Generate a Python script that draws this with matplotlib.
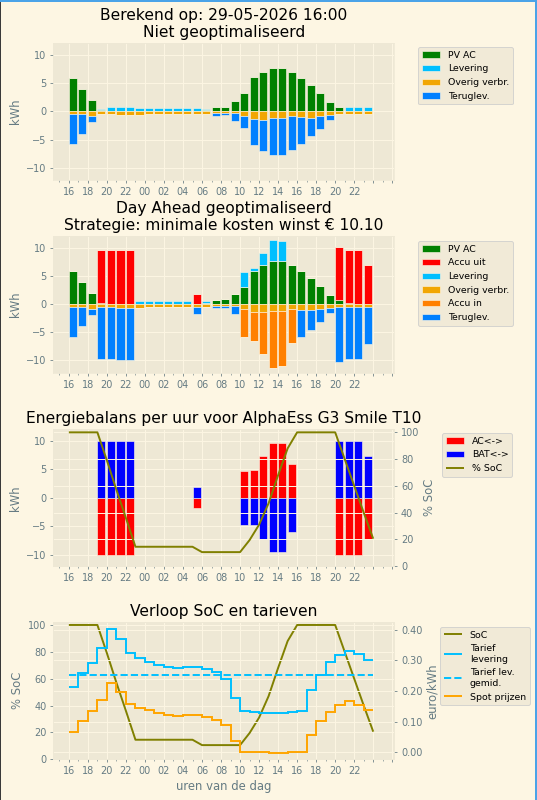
import matplotlib
matplotlib.use("Agg")
import matplotlib.pyplot as plt
import numpy as np
from matplotlib.ticker import MultipleLocator, FuncFormatter, FormatStrFormatter
from matplotlib.patches import Rectangle

plt.style.use('Solarize_Light2')

# uur-labels (16:00 vandaag t/m 23:00 morgen)
uren = ['16', '17', '18', '19', '20', '21', '22', '23',
        '00', '01', '02', '03', '04', '05', '06', '07', '08', '09', '10', '11',
        '12', '13', '14', '15', '16', '17', '18', '19', '20', '21', '22', '23']

# niet geoptimaliseerd (kWh)
pv_ac = [5.9, 4.0, 2.0, 0.2, 0.05, 0.0, 0.0, 0.0, 0.0, 0.0, 0.1, 0.1, 0.1, 0.1, 0.2, 0.8,
         0.85, 1.8, 3.15, 6.0, 7.0, 7.7, 7.65, 6.9, 5.9, 4.6, 3.3, 1.6, 0.7, 0.15, 0.0, 0.0]
lev_org = [0.0, 0.0, 0.0, 0.3, 0.7, 0.75, 0.75, 0.65, 0.6, 0.6, 0.5, 0.5, 0.5, 0.5, 0.2, 0.0,
           0.0, 0.0, 0.0, 0.0, 0.0, 0.0, 0.0, 0.0, 0.0, 0.0, 0.0, 0.0, 0.0, 0.55, 0.7, 0.7]
overig = [0.45, 0.55, 0.9, 0.5, 0.55, 0.7, 0.7, 0.6, 0.5, 0.5, 0.5, 0.5, 0.5, 0.5, 0.5, 0.3,
          0.3, 0.35, 0.9, 1.4, 1.45, 1.25, 1.15, 0.8, 1.05, 1.1, 0.9, 0.6, 0.55, 0.55, 0.55, 0.55]
terug_org = [5.3, 3.35, 1.0, 0.0, 0.0, 0.0, 0.0, 0.0, 0.0, 0.0, 0.0, 0.0, 0.0, 0.0, 0.0, 0.45,
             0.4, 1.35, 2.1, 4.5, 5.5, 6.4, 6.5, 6.0, 4.7, 3.25, 2.2, 0.9, 0.0, 0.0, 0.0, 0.0]

# day ahead geoptimaliseerd (kWh)
accu_uit = [0.0, 0.0, 0.0, 9.5, 9.65, 9.7, 9.7, 0.0, 0.0, 0.0, 0.0, 0.0, 0.0, 1.8, 0.0, 0.0,
            0.0, 0.0, 0.0, 0.0, 0.0, 0.0, 0.0, 0.0, 0.0, 0.0, 0.0, 0.0, 9.5, 9.55, 9.7, 7.0]
lev_opt = [0.0, 0.0, 0.0, 0.0, 0.0, 0.0, 0.0, 0.65, 0.55, 0.55, 0.45, 0.45, 0.45, 0.0, 0.3, 0.0,
           0.0, 0.0, 2.6, 0.45, 2.1, 3.75, 3.55, 0.0, 0.0, 0.0, 0.0, 0.0, 0.0, 0.0, 0.0, 0.0]
accu_in = [0.0, 0.0, 0.0, 0.0, 0.0, 0.0, 0.0, 0.0, 0.0, 0.0, 0.0, 0.0, 0.0, 0.0, 0.0, 0.0,
           0.0, 0.0, 4.9, 5.1, 7.4, 10.0, 9.9, 6.1, 0.0, 0.0, 0.0, 0.0, 0.0, 0.0, 0.0, 0.0]
terug_opt = [5.3, 3.4, 1.0, 9.15, 9.15, 9.15, 9.15, 0.0, 0.0, 0.0, 0.0, 0.0, 0.0, 1.3, 0.0, 0.3,
             0.35, 1.45, 0.0, 0.0, 0.0, 0.0, 0.0, 0.0, 4.8, 3.4, 2.3, 0.9, 9.75, 9.1, 9.1, 6.45]

# energiebalans batterij (kWh)
ac_bal = [0, 0, 0, -10, -10, -10, -10, 0, 0, 0, 0, 0, 0, -1.85, 0, 0,
          0, 0, 4.65, 4.85, 7.3, 9.6, 9.6, 5.9, 0, 0, 0, 0, -10, -10, -10, -7.3]
bat_bal = [0, 0, 0, 10, 10, 10, 10, 0, 0, 0, 0, 0, 0, 1.8, 0, 0,
           0, 0, -4.7, -4.85, -7.3, -9.6, -9.6, -6.0, 0, 0, 0, 0, 10, 10, 10, 7.3]

# state of charge (%) aan begin van elk uur, laatste = einde
soc = [100, 100, 100, 100, 79, 57, 36, 14.5, 14.5, 14.5, 14.5, 14.5, 14.5, 14.5, 10.5, 10.5, 10.5,
       10.5, 10.5, 19.5, 31, 47, 68, 88, 100, 100, 100, 100, 100, 80, 60, 40, 20.5]

# tarieven (euro/kWh)
tarief_lev = [0.213, 0.258, 0.293, 0.339, 0.404, 0.369, 0.325, 0.307, 0.295, 0.286, 0.279,
              0.276, 0.279, 0.279, 0.273, 0.263, 0.240, 0.178, 0.134, 0.131, 0.130, 0.128,
              0.129, 0.131, 0.134, 0.203, 0.253, 0.295, 0.319, 0.331, 0.320, 0.300]
spot = [0.066, 0.103, 0.135, 0.172, 0.225, 0.198, 0.158, 0.146, 0.137, 0.127, 0.123, 0.118,
        0.123, 0.123, 0.116, 0.107, 0.088, 0.037, 0.002, 0.0, 0.0, -0.002, -0.002, 0.0, 0.002,
        0.056, 0.103, 0.133, 0.153, 0.166, 0.155, 0.138]
tarief_gem = 0.253

c_pv = 'green'
c_lev = '#00bfff'
c_overig = '#f1a603'
c_terug = '#0080ff'
c_uit = 'red'
c_in = '#ff8000'

ind = np.arange(len(uren))
ind_soc = np.arange(len(soc))
bar_kw = dict(width=0.85, align='edge', edgecolor='#fdf6e3', linewidth=0.6)

fig, axs = plt.subplots(4, 1, figsize=(537 / 70, 800 / 70), dpi=70)
fig.subplots_adjust(left=0.099, right=0.734, top=0.946, bottom=0.051, hspace=0.41)


def fmt_uur(v, pos):
    i = int(round(v))
    if 0 <= i < len(uren):
        return uren[i]
    return ''


def opmaak_x(ax):
    ax.set_xlim(-1.65, 34.2)
    ax.xaxis.set_major_locator(MultipleLocator(2))
    ax.xaxis.set_minor_locator(MultipleLocator(1))
    ax.xaxis.set_major_formatter(FuncFormatter(fmt_uur))


leg_kw = dict(loc='upper left', bbox_transform=fig.transFigure, borderaxespad=0, fontsize=9.6)

# 1: niet geoptimaliseerd
ax = axs[0]
ax.bar(ind, pv_ac, color=c_pv, label='PV AC', **bar_kw)
ax.bar(ind, lev_org, bottom=pv_ac, color=c_lev, label='Levering', **bar_kw)
ax.bar(ind, -np.array(overig), color=c_overig, label='Overig verbr.', **bar_kw)
ax.bar(ind, -np.array(terug_org), bottom=-np.array(overig), color=c_terug, label='Teruglev.', **bar_kw)
ax.set_ylim(-12.1, 12)
ax.set_ylabel('kWh')
ax.set_title('Berekend op: 29-05-2026 16:00\nNiet geoptimaliseerd')
opmaak_x(ax)
ax.legend(bbox_to_anchor=(418 / 537, 1 - 47 / 800), **leg_kw)

# 2: geoptimaliseerd
ax = axs[1]
pv_arr = np.array(pv_ac)
ax.bar(ind, pv_ac, color=c_pv, label='PV AC', **bar_kw)
ax.bar(ind, accu_uit, bottom=pv_arr, color=c_uit, label='Accu uit', **bar_kw)
ax.bar(ind, lev_opt, bottom=pv_arr + np.array(accu_uit), color=c_lev, label='Levering', **bar_kw)
ax.bar(ind, -np.array(overig), color=c_overig, label='Overig verbr.', **bar_kw)
ax.bar(ind, -np.array(accu_in), bottom=-np.array(overig), color=c_in, label='Accu in', **bar_kw)
ax.bar(ind, -np.array(terug_opt), bottom=-np.array(overig) - np.array(accu_in), color=c_terug,
       label='Teruglev.', **bar_kw)
ax.set_ylim(-12.25, 12.1)
ax.set_ylabel('kWh')
ax.set_title('Day Ahead geoptimaliseerd\nStrategie: minimale kosten winst € 10.10')
opmaak_x(ax)
ax.legend(bbox_to_anchor=(418 / 537, 1 - 241 / 800), **leg_kw)

# 3: energiebalans
ax = axs[2]
ax.bar(ind, ac_bal, color='red', label='AC<->', **bar_kw)
ax.bar(ind, bat_bal, color='blue', label='BAT<->', **bar_kw)
ax.set_ylim(-12, 12)
ax.set_ylabel('kWh')
ax.set_title('Energiebalans per uur voor AlphaEss G3 Smile T10')
opmaak_x(ax)
ax3b = ax.twinx()
ax3b.plot(ind_soc, soc, color='olive', label='% SoC')
ax3b.set_ylim(0, 102.3)
ax3b.set_ylabel('% SoC')
h1, l1 = ax.get_legend_handles_labels()
h2, l2 = ax3b.get_legend_handles_labels()
ax3b.legend(h1 + h2, l1 + l2, bbox_to_anchor=(442 / 537, 1 - 433 / 800), **leg_kw)

# 4: SoC en tarieven
ax = axs[3]
ax.plot(ind_soc, soc, color='olive', label='SoC')
ax.set_ylim(0, 102)
ax.set_ylabel('% SoC')
ax.set_xlabel('uren van de dag')
ax.set_title('Verloop SoC en tarieven')
opmaak_x(ax)
ax4b = ax.twinx()
ax4b.stairs(tarief_lev, ind_soc, baseline=None, color=c_lev, linewidth=2, label='Tarief\nlevering')
ax4b.plot(ind_soc, np.full(len(ind_soc), tarief_gem), '--', color=c_lev, label='Tarief lev.\ngemid.')
ax4b.stairs(spot, ind_soc, baseline=None, color='orange', linewidth=2, label='Spot prijzen')
ax4b.yaxis.set_major_formatter(FormatStrFormatter('%.2f'))
ax4b.set_ylabel('euro/kWh')
h1, l1 = ax.get_legend_handles_labels()
h2, l2 = ax4b.get_legend_handles_labels()
ax4b.legend(h1 + h2, l1 + l2, bbox_to_anchor=(440 / 537, 1 - 627 / 800), **leg_kw)

# schermrand van de screenshot
fig.add_artist(Rectangle((0, 0), 1 / 537, 1, transform=fig.transFigure, color='#3a3a3a', lw=0))
fig.add_artist(Rectangle((0, 1 - 1.5 / 800), 1, 1.5 / 800, transform=fig.transFigure, color='#4aa3e8', lw=0))
fig.add_artist(Rectangle((1 - 2 / 537, 0), 2 / 537, 1, transform=fig.transFigure, color='#4aa3e8', lw=0))

fig.savefig('out.png', dpi=70)
